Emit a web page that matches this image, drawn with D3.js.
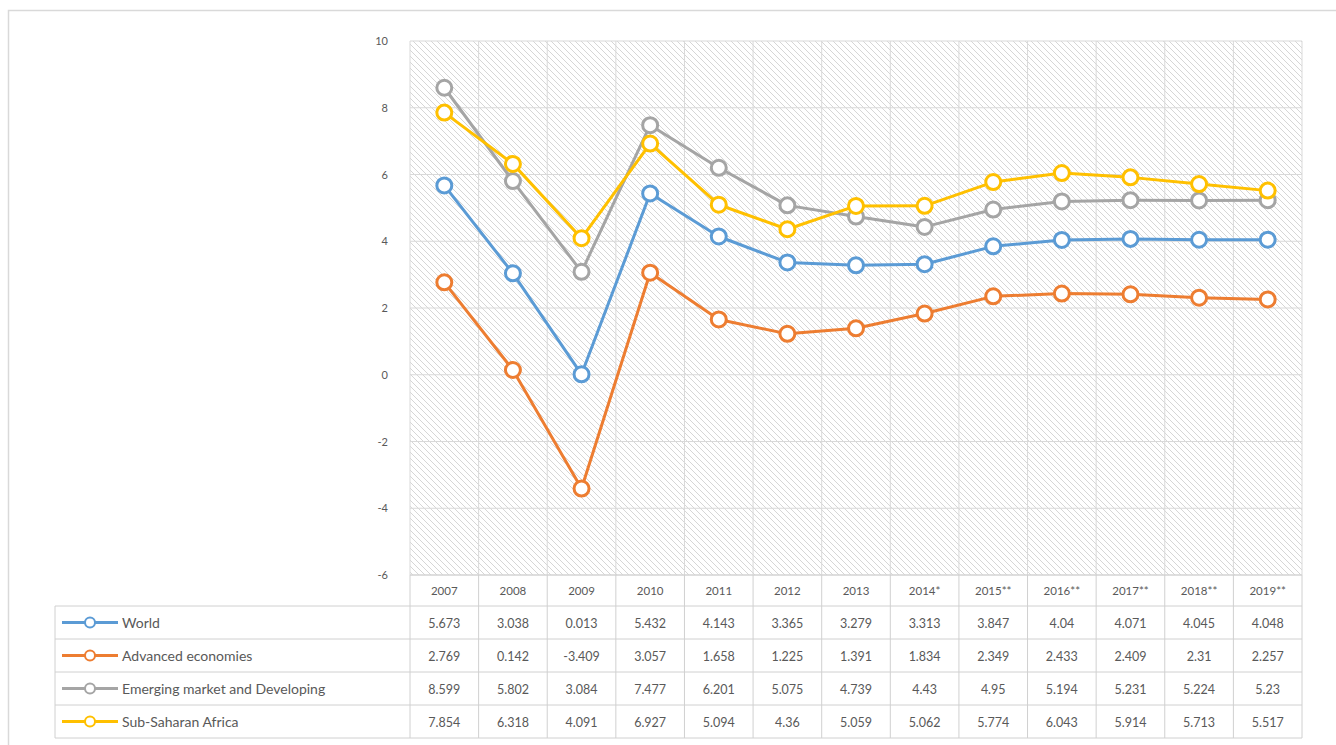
<!DOCTYPE html>
<html><head><meta charset="utf-8">
<script src="https://cdn.jsdelivr.net/npm/d3@7"></script>
<style>body{margin:0;background:#fff;} svg{display:block;}</style>
</head><body>
<svg id="c" width="1336" height="745"></svg>
<script>
const categories = ["2007","2008","2009","2010","2011","2012","2013","2014*","2015**","2016**","2017**","2018**","2019**"];
const seriesNames = ["World","Advanced economies","Emerging market and Developing","Sub-Saharan Africa"];
const world = [5.673,3.038,0.013,5.432,4.143,3.365,3.279,3.313,3.847,4.04,4.071,4.045,4.048];
const advanced = [2.769,0.142,-3.409,3.057,1.658,1.225,1.391,1.834,2.349,2.433,2.409,2.31,2.257];
const emerging = [8.599,5.802,3.084,7.477,6.201,5.075,4.739,4.43,4.95,5.194,5.231,5.224,5.23];
const ssa = [7.854,6.318,4.091,6.927,5.094,4.36,5.059,5.062,5.774,6.043,5.914,5.713,5.517];
const yTicks = [-6,-4,-2,0,2,4,6,8,10];
const colors = ["#5B9BD5","#ED7D31","#A5A5A5","#FFC000"];
const seriesValues = [world, advanced, emerging, ssa];
const drawOrder = [2,3,0,1];

const svg = d3.select("#c");
const L = 410, R = 1302, T = 41, B = 575;
const x = d3.scaleBand().domain(categories).range([L, R]);
const y = d3.scaleLinear().domain([-6, 10]).range([B, T]);

// outer frame
svg.append("rect").attr("x",8.5).attr("y",10.5).attr("width",1340).attr("height",760)
  .attr("fill","none").attr("stroke","#d9d9d9").attr("stroke-width",1.5);

// hatch pattern
const defs = svg.append("defs");
const pat = defs.append("pattern").attr("id","hatch").attr("patternUnits","userSpaceOnUse")
  .attr("width",6).attr("height",6);
pat.append("rect").attr("width",6).attr("height",6).attr("fill","#fff");
pat.append("path").attr("d","M-1,-1 L7,7 M-1,5 L1,7 M5,-1 L7,1").attr("stroke","#d6d6d6").attr("stroke-width",1);

svg.append("rect").attr("x",L).attr("y",T).attr("width",R-L).attr("height",B-T).attr("fill","url(#hatch)");

// gridlines
const g = svg.append("g");
g.selectAll("line.h").data(yTicks).join("line")
  .attr("x1",L).attr("x2",R).attr("y1",d=>y(d)).attr("y2",d=>y(d))
  .attr("stroke","#d9d9d9").attr("stroke-width",1);
const bounds = categories.map(c=>x(c)).concat([R]);
g.selectAll("line.v").data(bounds).join("line")
  .attr("x1",d=>d).attr("x2",d=>d).attr("y1",T).attr("y2",B)
  .attr("stroke","#d9d9d9").attr("stroke-width",1);

// y axis labels
const yAxis = d3.axisLeft(y).tickValues(yTicks).tickSize(0).tickPadding(0).tickFormat(d=>String(d));
const ya = svg.append("g").attr("transform",`translate(${L-22},0)`).call(yAxis);
ya.select(".domain").remove();
ya.selectAll("text").attr("fill","#595959").attr("font-family","Lato, 'Open Sans', sans-serif").attr("font-size",11);

// lines
const line = d3.line().x((d,i)=>x(categories[i])+x.bandwidth()/2).y(d=>y(d));
drawOrder.forEach(si=>{
  svg.append("path").datum(seriesValues[si]).attr("d",line)
    .attr("fill","none").attr("stroke",colors[si]).attr("stroke-width",3).attr("stroke-linejoin","round");
  svg.append("g").selectAll("circle").data(seriesValues[si]).join("circle")
    .attr("cx",(d,i)=>x(categories[i])+x.bandwidth()/2).attr("cy",d=>y(d)).attr("r",7.5)
    .attr("fill","#fff").attr("stroke",colors[si]).attr("stroke-width",3);
});

// data table
const TL = 55, rowH = 33;
const headerTop = B, headerBottom = 606;
const tbl = svg.append("g").attr("font-family","Lato, 'Open Sans', sans-serif");
const rowTops = seriesNames.map((s,i)=>headerBottom + i*rowH);
const tableBottom = headerBottom + seriesNames.length*rowH;
const gridC = "#d0d0d0";
tbl.selectAll("line.hv").data(bounds).join("line")
  .attr("x1",d=>d).attr("x2",d=>d).attr("y1",headerTop).attr("y2",tableBottom)
  .attr("stroke",gridC);
tbl.append("line").attr("x1",L).attr("x2",R).attr("y1",headerTop).attr("y2",headerTop).attr("stroke",gridC);
tbl.selectAll("line.rh").data(rowTops.concat([tableBottom])).join("line")
  .attr("x1",TL).attr("x2",R).attr("y1",d=>d).attr("y2",d=>d).attr("stroke",gridC);
tbl.append("line").attr("x1",TL).attr("x2",TL).attr("y1",headerBottom).attr("y2",tableBottom).attr("stroke",gridC);
tbl.selectAll("text.hd").data(categories).join("text")
  .attr("x",d=>x(d)+x.bandwidth()/2).attr("y",(headerTop+headerBottom)/2+4)
  .attr("text-anchor","middle").attr("font-size",11.5).attr("fill","#595959").text(d=>d);
seriesNames.forEach((name,si)=>{
  const cy = rowTops[si] + rowH/2;
  tbl.append("line").attr("x1",62).attr("x2",118).attr("y1",cy).attr("y2",cy)
    .attr("stroke",colors[si]).attr("stroke-width",3);
  tbl.append("circle").attr("cx",90).attr("cy",cy).attr("r",5).attr("fill","#fff")
    .attr("stroke",colors[si]).attr("stroke-width",2);
  tbl.append("text").attr("x",122).attr("y",cy+5).attr("font-size",14).attr("fill","#595959").text(name);
  tbl.selectAll(null).data(seriesValues[si]).join("text")
    .attr("x",(d,i)=>x(categories[i])+x.bandwidth()/2).attr("y",cy+5)
    .attr("text-anchor","middle").attr("font-size",12.5).attr("fill","#595959")
    .text(d=>String(d));
});
</script>
</body></html>
